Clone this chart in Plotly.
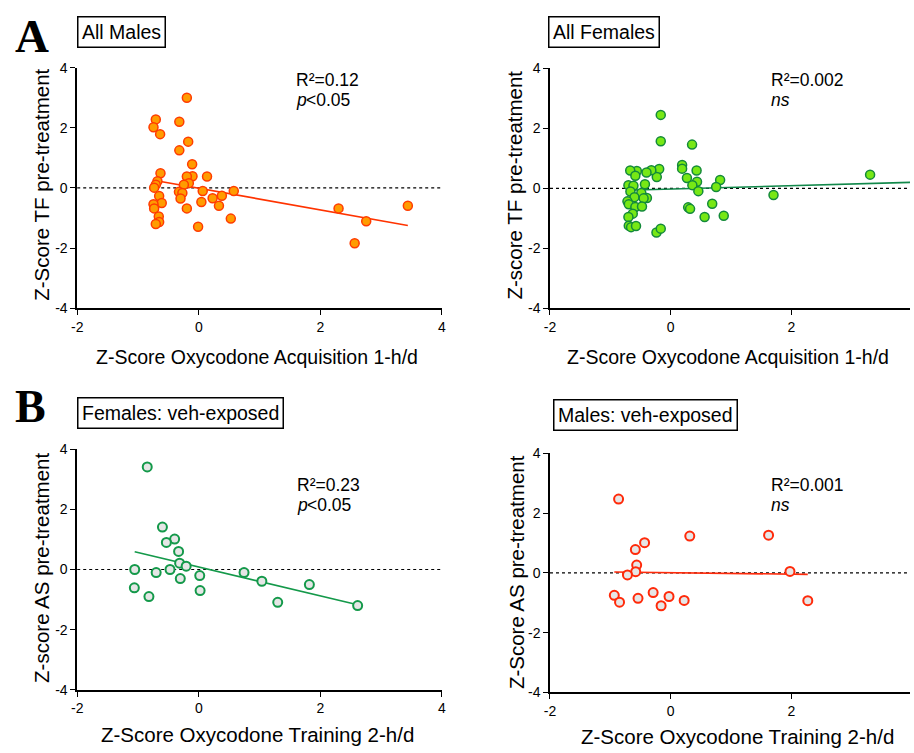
import plotly.graph_objects as go

# ---------------- DATA ----------------
# Panel A (left): All Males
males_x = [-0.196, -0.707, -0.745, -0.636, -0.32, -0.174, -0.32, -0.109, -0.63, -0.103,
           0.136, -0.196, -0.163, -0.245, -0.68, -0.707, -0.734, -0.326, -0.27, -0.3,
           0.065, 0.576, -0.652, 0.228, 0.38, -0.609, -0.745, -0.734, 0.043, 0.332,
           -0.196, -0.658, 0.527, -0.652, -0.707, -0.011, 2.30, 2.755, 2.565, 3.44]
males_y = [3.0, 2.28, 2.02, 1.79, 2.2, 1.54, 1.25, 0.79, 0.49, 0.39,
           0.38, 0.38, 0.16, 0.11, 0.22, 0.11, 0.01, -0.13, -0.17, -0.35,
           -0.1, -0.1, -0.27, -0.34, -0.26, -0.5, -0.54, -0.68, -0.47, -0.59,
           -0.68, -0.95, -1.02, -1.13, -1.2, -1.29, -0.68, -1.11, -1.84, -0.59]
males_fit_x = [-0.72, 3.44]
males_fit_y = [0.25, -1.25]

# Panel A (right): All Females
females_x = [-0.164, -0.164, 0.355, 0.19, 0.19, 0.43, -0.19, -0.23, -0.32, -0.40,
             -0.56, -0.67, -0.585, 0.27, 0.437, 0.82, 0.36, 0.754, 0.459, -0.426,
             -0.70, -0.617, -0.667, -0.486, -0.6, -0.393, -0.448, -0.716, -0.694, -0.585,
             -0.475, -0.628, -0.70, -0.694, -0.656, -0.574, -0.235, -0.164, 0.29, 0.322,
             0.689, 0.563, 0.88, 1.705, 3.306]
females_y = [2.45, 1.57, 1.46, 0.78, 0.66, 0.6, 0.65, 0.38, 0.61, 0.53,
             0.58, 0.6, 0.42, 0.35, 0.22, 0.28, 0.11, 0.05, -0.09, 0.14,
             0.11, 0.09, -0.1, -0.15, -0.29, -0.32, -0.33, -0.43, -0.53, -0.62,
             -0.6, -0.84, -0.95, -1.24, -1.29, -1.25, -1.47, -1.34, -0.63, -0.68,
             -0.51, -0.95, -0.91, -0.22, 0.46]
females_fit_x = [-0.72, 4.3]
females_fit_y = [-0.06, 0.22]

# Panel B (left): Females veh-exposed
fveh_x = [-0.848, -0.598, -0.397, -0.533, -0.332, -0.315, -0.207, -1.054, -0.701, -0.473,
          0.016, -0.304, -1.06, -0.82, 0.022, 0.745, 1.038, 1.299, 1.82, 2.614]
fveh_y = [3.41, 1.41, 1.01, 0.9, 0.6, 0.21, 0.11, 0.0, -0.1, 0.0,
          -0.2, -0.3, -0.61, -0.9, -0.7, -0.1, -0.39, -1.09, -0.5, -1.2]
fveh_fit_x = [-1.054, 2.614]
fveh_fit_y = [0.59, -1.17]

# Panel B (right): Males veh-exposed
mveh_x = [-0.863, 0.317, 1.623, -0.432, -0.585, -0.563, -0.579, -0.716, 1.978, -0.934,
          -0.847, -0.541, -0.29, -0.027, -0.158, 0.224, 2.273]
mveh_y = [2.47, 1.23, 1.26, 1.01, 0.78, 0.26, 0.04, -0.07, 0.05, -0.75,
          -0.98, -0.85, -0.66, -0.79, -1.1, -0.92, -0.93]
mveh_fit_x = [-0.934, 2.273]
mveh_fit_y = [0.03, -0.05]

x_tickvals = [-2, 0, 2, 4]
x_ticktext = ["-2", "0", "2", "4"]
y_tickvals = [-4, -2, 0, 2, 4]
y_ticktext = ["-4", "-2", "0", "2", "4"]

# ---------------- FIGURE ----------------
W, H = 914, 753
def fx(p):
    return p / W
def fy(p):
    return 1 - p / H

FONT = "Liberation Sans, Arial, sans-serif"
SERIF = "Liberation Serif, Times New Roman, serif"

fig = go.Figure()

def add_panel(n, xs, ys, fitx, fity, fill, outline, linecol, lw_marker, size):
    xa = "x" if n == 1 else f"x{n}"
    ya = "y" if n == 1 else f"y{n}"
    fig.add_trace(go.Scatter(x=fitx, y=fity, mode="lines", xaxis=xa, yaxis=ya,
                             line=dict(color=linecol, width=1.6), showlegend=False,
                             hoverinfo="skip", cliponaxis=True))
    fig.add_trace(go.Scatter(x=xs, y=ys, mode="markers", xaxis=xa, yaxis=ya,
                             marker=dict(size=size, color=fill,
                                         line=dict(color=outline, width=lw_marker)),
                             showlegend=False, cliponaxis=False))

add_panel(1, males_x, males_y, males_fit_x, males_fit_y, "#FF9C00", "#FF3C00", "#FF3300", 1.5, 9)
add_panel(2, females_x, females_y, females_fit_x, females_fit_y, "#77E815", "#138A3A", "#11884A", 1.5, 9)
add_panel(3, fveh_x, fveh_y, fveh_fit_x, fveh_fit_y, "#E6E6E6", "#14994A", "#14994A", 2, 9)
add_panel(4, mveh_x, mveh_y, mveh_fit_x, mveh_fit_y, "#E6E6E6", "#FF2A0A", "#FF2A0A", 2, 9)

# domains (pixel positions)
left_x = [fx(72), fx(440.7)]
right_x = [fx(550), 1.0]
right_range = [-2, -2 + (W - 550) / 61.0]

axis_common = dict(showgrid=False, zeroline=False, showline=True, linecolor="black",
                   linewidth=1.5, ticks="outside", ticklen=5, tickwidth=1.3,
                   tickcolor="black", tickfont=dict(family=FONT, size=14, color="black"))

layout_axes = {}
doms = {
    1: (left_x, [fy(306.7), fy(61)], [-2, 4]),
    2: (right_x, [fy(307), fy(61.7)], right_range),
    3: (left_x, [fy(696.7), fy(450.7)], [-2, 4]),
    4: (right_x, [fy(699.3), fy(455)], right_range),
}
for n, (dx, dy, xr) in doms.items():
    xk = "xaxis" if n == 1 else f"xaxis{n}"
    yk = "yaxis" if n == 1 else f"yaxis{n}"
    ya = "y" if n == 1 else f"y{n}"
    xa = "x" if n == 1 else f"x{n}"
    layout_axes[xk] = dict(domain=dx, range=xr, anchor=ya, tickmode="array",
                           tickvals=x_tickvals, ticktext=x_ticktext, **axis_common)
    layout_axes[yk] = dict(domain=dy, range=[-4, 4], anchor=xa, tickmode="array",
                           tickvals=y_tickvals, ticktext=y_ticktext, **axis_common)

fig.update_layout(width=W, height=H, margin=dict(l=0, r=0, t=0, b=0),
                  plot_bgcolor="white", paper_bgcolor="white", **layout_axes)

# dotted zero lines
for n in range(1, 5):
    xa = "x" if n == 1 else f"x{n}"
    ya = "y" if n == 1 else f"y{n}"
    fig.add_shape(type="line", xref=f"{xa} domain", yref=ya, x0=0, x1=1, y0=0, y1=0,
                  line=dict(color="black", width=1.2, dash="dot"), layer="below")

ann = []
def text(x, y, s, size=17.5, xanchor="left", yanchor="middle", style="normal",
         family=FONT, **kw):
    ann.append(dict(x=fx(x), y=fy(y), xref="paper", yref="paper", text=s,
                    showarrow=False, xanchor=xanchor, yanchor=yanchor,
                    font=dict(family=family, size=size, color="black", style=style), **kw))

# stats text (R² line, then p / ns line)
stats = [
    (291, 73.2, 93.9, "R²=0.12", True),
    (771, 73.2, 93.9, "R²=0.002", False),
    (292, 487.2, 508, "R²=0.23", True),
    (771, 487.2, 508, "R²=0.001", False),
]
for x0, yr, yp, r2, sig in stats:
    text(x0, yr, r2)
    if sig:
        text(x0, yp, "p", style="italic")
        text(x0 + 10, yp, "<0.05")
    else:
        text(x0, yp, "ns", style="italic")

# boxed titles
for cx, cy, s in [(116.3, 25, "All Males"), (605, 25, "All Females"),
                  (176.7, 413.8, "Females: veh-exposed"), (646.3, 416.2, "Males: veh-exposed")]:
    text(cx, cy, s, size=19.5, xanchor="center",
         bordercolor="black", borderwidth=1.5, borderpad=3.5)

# panel letters
text(26.3, 28.8, "<b>A</b>", size=47, xanchor="center", family=SERIF)
text(24.7, 407.2, "<b>B</b>", size=46, xanchor="center", family=SERIF)

# axis titles
text(253.3, 356.5, "Z-Score Oxycodone Acquisition 1-h/d", size=19.5, xanchor="center")
text(730, 356.5, "Z-Score Oxycodone Acquisition 1-h/d", size=19.5, xanchor="center")
text(254, 742, "Z-Score Oxycodone Training 2-h/d", size=20.5, xanchor="center")
text(740, 744, "Z-Score Oxycodone Training 2-h/d", size=20.5, xanchor="center")
text(36, 181, "Z-Score TF pre-treatment", size=20.5, xanchor="center", textangle=-90)
text(514, 181, "Z-score TF pre-treatment", size=20.5, xanchor="center", textangle=-90)
text(36, 572.5, "Z-score AS pre-treatment", size=20.5, xanchor="center", textangle=-90)
text(516, 576, "Z-Score AS pre-treatment", size=20.5, xanchor="center", textangle=-90)

fig.update_layout(annotations=ann)
fig.write_html(
    "out.html",
    config={"displayModeBar": False},
    post_script=(
        "document.documentElement.style.margin='0';"
        "document.body.style.margin='0';"
        "document.body.style.overflow='hidden';"
        "var d=document.getElementById('{plot_id}');"
        "d.style.position='fixed';d.style.left='0px';d.style.top='0px';"
    ),
)
